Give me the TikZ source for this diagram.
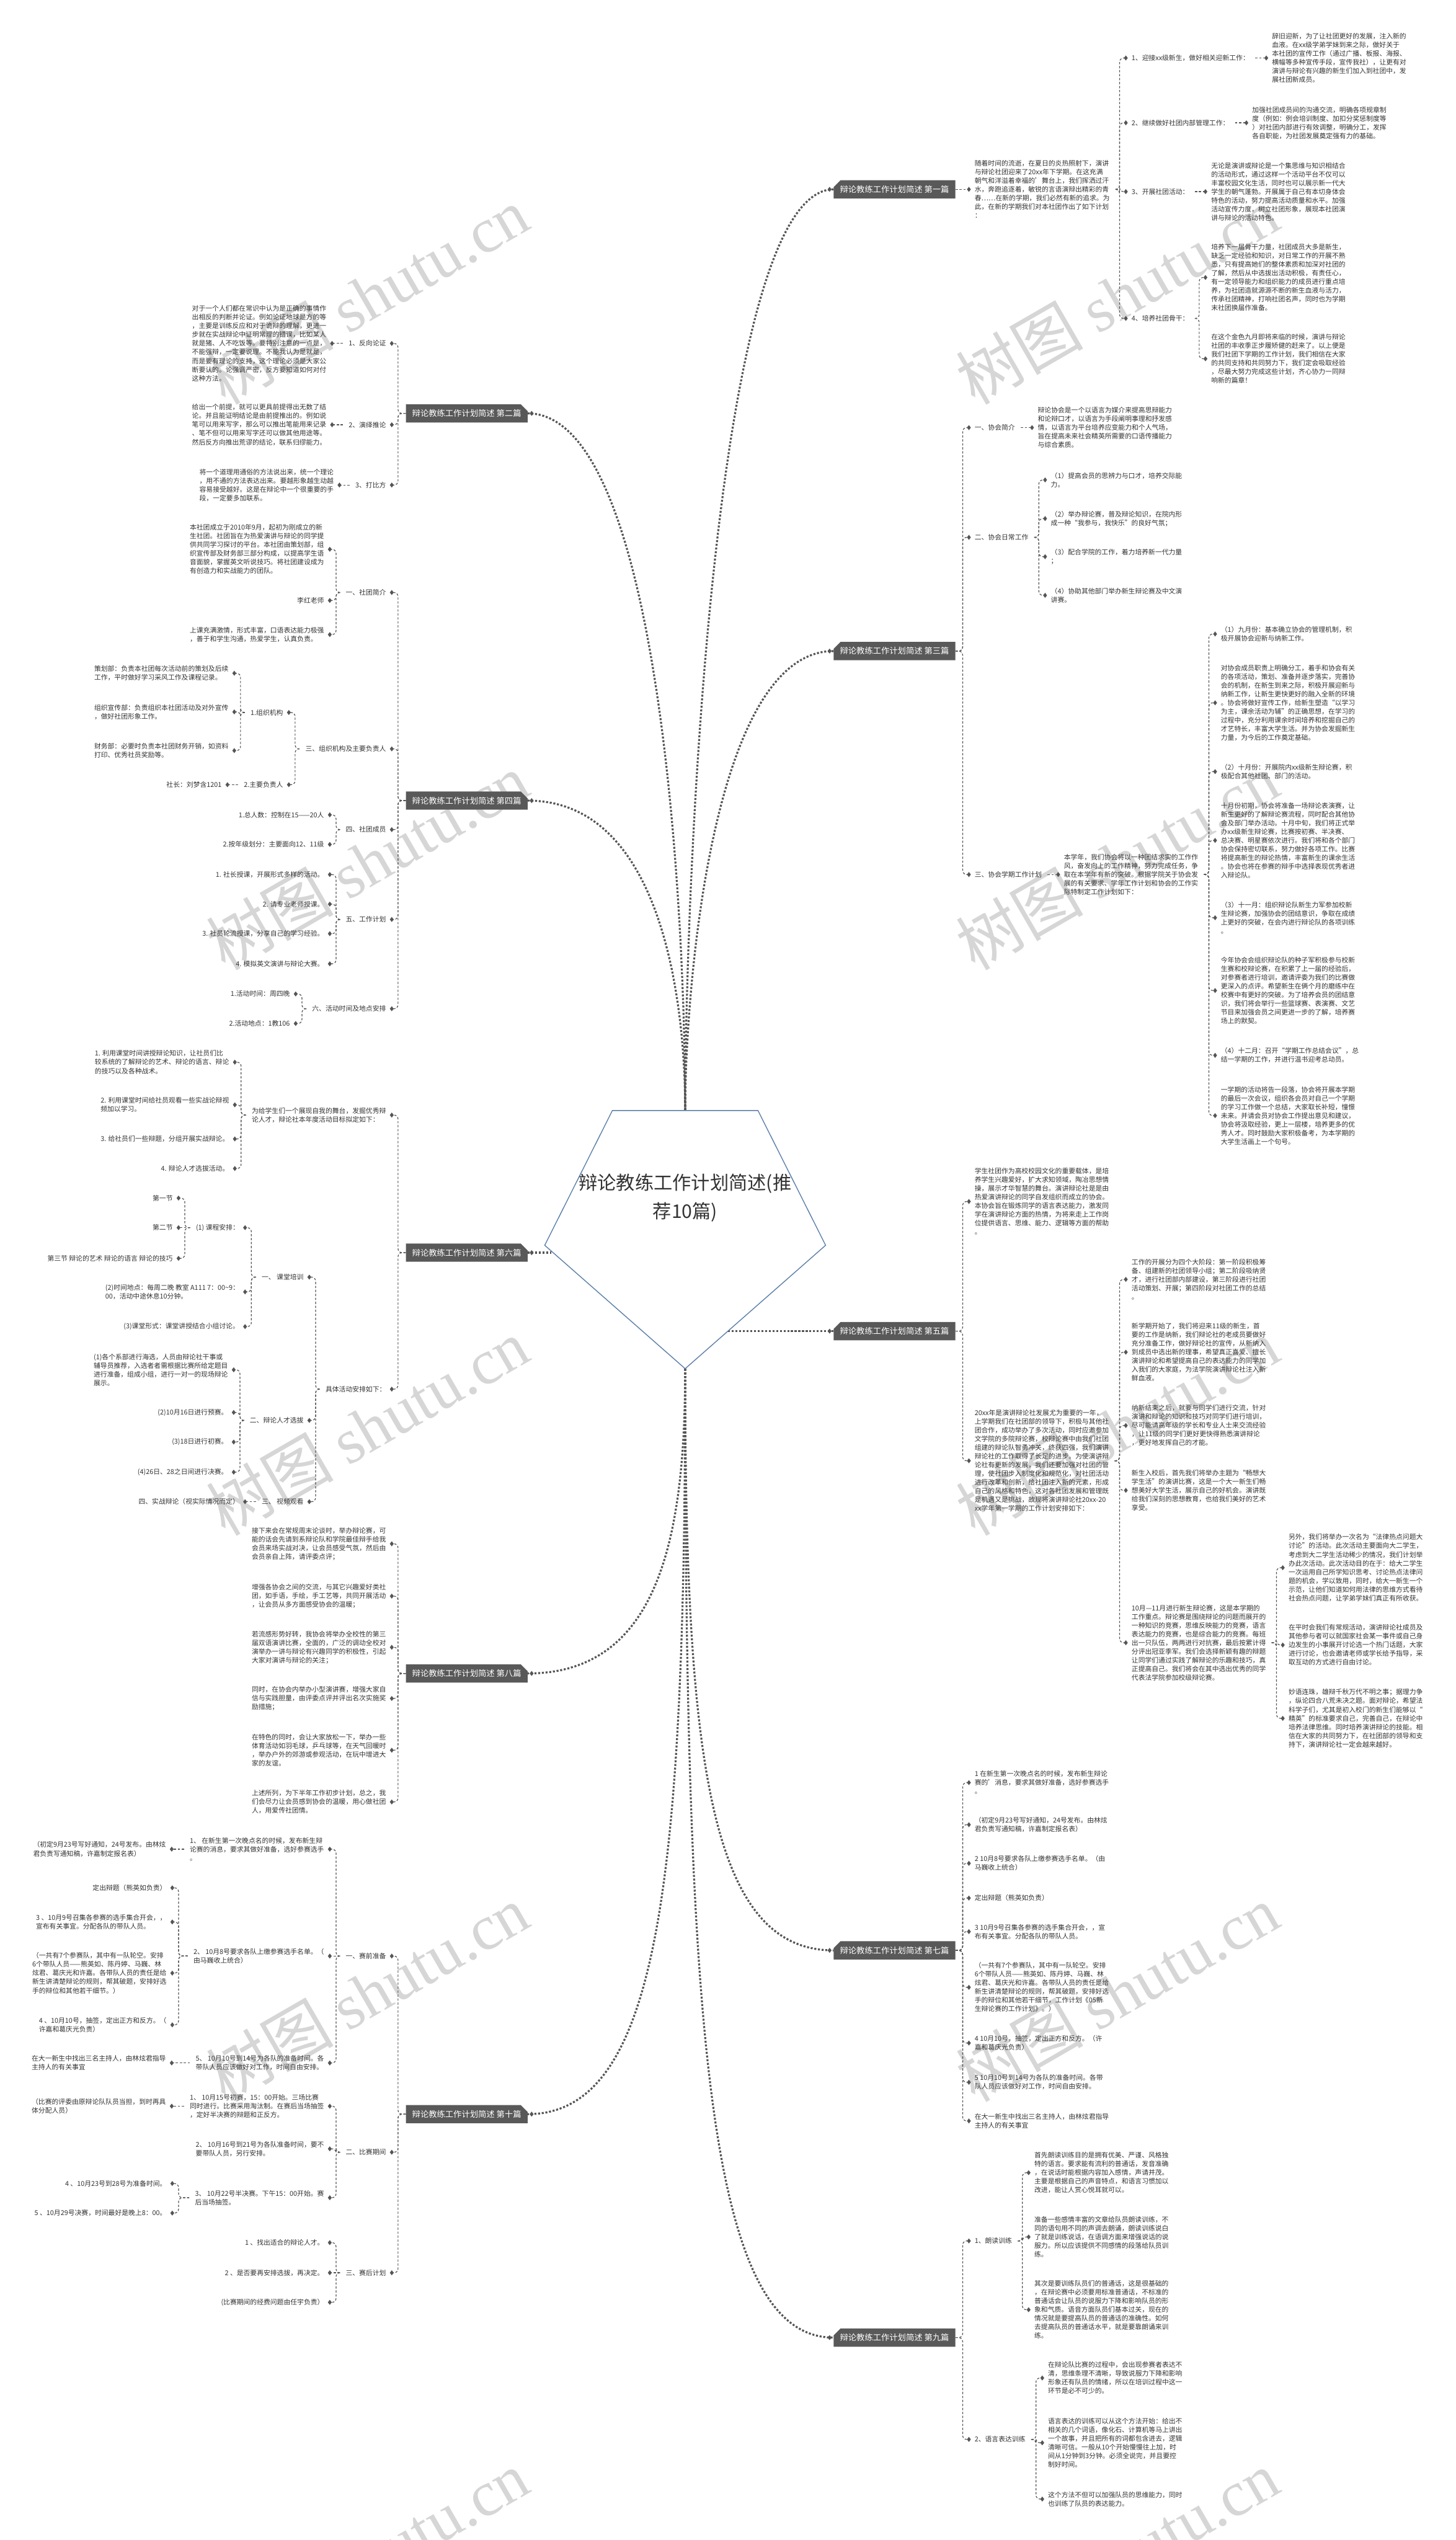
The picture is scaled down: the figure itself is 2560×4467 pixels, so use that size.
\documentclass[tikz,border=0pt]{standalone}
\usepackage{fontspec}
\setmainfont{Noto Sans CJK SC}
\newfontfamily\wmlat{Liberation Serif}
\usetikzlibrary{shapes.geometric,shapes.misc,calc}
\definecolor{txt}{HTML}{333333}
\definecolor{lc}{HTML}{555555}
\definecolor{brc}{HTML}{595959}
\definecolor{hexc}{HTML}{5B7FA8}
\definecolor{wmc}{HTML}{D6D6D6}
\pgfdeclarelayer{wm}
\pgfdeclarelayer{lines}
\pgfsetlayers{wm,lines,main}
\newcommand\ft{\fontsize{11.8}{15.3}\selectfont}
\newcommand\lkL[2]{\draw[con] (#1.west) -- ($(#1.west -| #2.east)+(11,0)$) |- (#2.east);}
\newcommand\lkR[2]{\draw[con] (#1.east) -- ($(#1.east -| #2.west)+(-11,0)$) |- (#2.west);}
\newcommand\lkSL[2]{\draw[con] (#1.west) -- (#2.east);}
\newcommand\lkSR[2]{\draw[con] (#1.east) -- (#2.west);}
\tikzset{
  dia/.style={diamond, fill=lc, draw=none, inner sep=0pt, minimum width=7pt, minimum height=9pt, anchor=center},
  leafL/.style={anchor=east, align=left, inner xsep=10pt, inner ysep=0pt, font=\ft, text=txt, append after command={(\tikzlastnode.east) node[dia] {}}},
  leafR/.style={anchor=west, align=left, inner xsep=10pt, inner ysep=0pt, font=\ft, text=txt, append after command={(\tikzlastnode.west) node[dia] {}}},
  brbase/.style={chamfered rectangle, chamfered rectangle xsep=6pt, chamfered rectangle ysep=6pt, fill=brc, text=white, font=\fontsize{14.5}{16}\selectfont, minimum width=214pt, minimum height=32pt, inner sep=0pt},
  brL/.style={brbase, chamfered rectangle corners=north east, anchor=east, append after command={([xshift=7pt]\tikzlastnode.east) node[dia] {}}},
  brR/.style={brbase, chamfered rectangle corners=north west, anchor=west, append after command={([xshift=-7pt]\tikzlastnode.west) node[dia] {}}},
  con/.style={draw=lc, line width=1.3pt, dash pattern=on 4pt off 3pt, rounded corners=7pt},
  mainc/.style={draw=lc, line width=3.5pt, dash pattern=on 3.5pt off 3pt},
  wm/.style={text=wmc, rotate=30, font=\fontsize{112}{112}\selectfont, inner sep=0pt, anchor=center},
}
\begin{document}
\begin{tikzpicture}[x=1pt,y=-1pt]
\useasboundingbox (0,0) rectangle (2560,4467);
\begin{pgfonlayer}{wm}
\fill[white] (0,0) rectangle (2560,4467);
\node[wm] (w1) at (646,520) {树图 {\wmlat shutu.cn}};
\node[wm] (w2) at (646,1515) {树图 {\wmlat shutu.cn}};
\node[wm] (w3) at (646,2510) {树图 {\wmlat shutu.cn}};
\node[wm] (w4) at (646,3505) {树图 {\wmlat shutu.cn}};
\node[wm] (w5) at (646,4500) {树图 {\wmlat shutu.cn}};
\node[wm] (w6) at (1965,520) {树图 {\wmlat shutu.cn}};
\node[wm] (w7) at (1965,1515) {树图 {\wmlat shutu.cn}};
\node[wm] (w8) at (1965,2510) {树图 {\wmlat shutu.cn}};
\node[wm] (w9) at (1965,3505) {树图 {\wmlat shutu.cn}};
\node[wm] (w10) at (1965,4500) {树图 {\wmlat shutu.cn}};
\end{pgfonlayer}

% ---------- centre ----------
\coordinate (ptl) at (1077,1953);
\coordinate (ptr) at (1333,1953);
\coordinate (pr) at (1452,2190);
\coordinate (pb) at (1205,2407);
\coordinate (pl) at (958,2190);
\coordinate (ctop) at (1205,1953);
\coordinate (cl6) at (970,2203);
\coordinate (cr5) at (1280,2341);
\draw[hexc, line width=1.5pt, fill=white] (ptl) -- (ptr) -- (pr) -- (pb) -- (pl) -- cycle;
\node[align=center, text=txt, font=\fontsize{33}{50}\selectfont] (title) at (1205,2107) {辩论教练工作计划简述(推\\荐10篇)};

% ---------- branch nodes ----------
\node[brL] (b2) at (928,727) {辩论教练工作计划简述 第二篇};
\node[brL] (b4) at (928,1408) {辩论教练工作计划简述 第四篇};
\node[brL] (b6) at (928,2203) {辩论教练工作计划简述 第六篇};
\node[brL] (b8) at (928,2943) {辩论教练工作计划简述 第八篇};
\node[brL] (b10) at (928,3718) {辩论教练工作计划简述 第十篇};
\node[brR] (b1) at (1466,333) {辩论教练工作计划简述 第一篇};
\node[brR] (b3) at (1466,1145) {辩论教练工作计划简述 第三篇};
\node[brR] (b5) at (1466,2341) {辩论教练工作计划简述 第五篇};
\node[brR] (b7) at (1466,3430) {辩论教练工作计划简述 第七篇};
\node[brR] (b9) at (1466,4111) {辩论教练工作计划简述 第九篇};

% ---------- 第二篇 ----------
\node[leafL] (b2a) at (689,604) {1、反向论证};
\node[leafL] (b2a1) at (584,604) {对于一个人们都在常识中认为是正确的事情作\\出相反的判断并论证。例如论证地球是方的等\\，主要是训练反应和对于诡辩的理解，更进一\\步就在实战辩论中证明常理的错误，比如某人\\就是猪、人不吃饭等。要特别注意的一点是，\\不能强辩，一定要说理。不能我认为是就是，\\而是要有理论的支持，这个理论必须是大家公\\断要认的。论强调严密，反方要知道如何对付\\这种方法。};
\node[leafL] (b2b) at (689,747) {2、演绎推论};
\node[leafL] (b2b1) at (584,747) {给出一个前提，就可以更具前提得出无数了结\\论。并且能证明结论是由前提推出的。例如说\\笔可以用来写字，那么可以推出笔能用来记录\\、笔不但可以用来写字还可以做其他用途等。\\然后反方向推出荒谬的结论，联系归缪能力。};
\node[leafL] (b2c) at (689,853) {3、打比方};
\node[leafL] (b2c1) at (597,853) {将一个道理用通俗的方法说出来，统一个理论\\，用不通的方法表达出来。要越形象越生动越\\容易接受越好。这是在辩论中一个很重要的手\\段，一定要多加联系。};

% ---------- 第四篇 ----------
\node[leafL] (b4a) at (689,1042) {一、社团简介};
\node[leafL] (b4a1) at (580,966) {本社团成立于2010年9月，起初为刚成立的新\\生社团。社团旨在为热爱演讲与辩论的同学提\\供共同学习探讨的平台。本社团由策划部，组\\织宣传部及财务部三部分构成，以提高学生语\\音面貌，掌握英文听说技巧。将社团建设成为\\有创造力和实战能力的团队。};
\node[leafL] (b4a2) at (580,1056) {李红老师};
\node[leafL] (b4a3) at (580,1116) {上课充满激情，形式丰富，口语表达能力极强\\，善于和学生沟通，热爱学生，认真负责。};
\node[leafL] (b4b) at (689,1317) {三、组织机构及主要负责人};
\node[leafL] (b4b1) at (508,1253) {1.组织机构};
\node[leafL] (b4b1a) at (412,1184) {策划部：负责本社团每次活动前的策划及后续\\工作，平时做好学习采风工作及课程记录。};
\node[leafL] (b4b1b) at (412,1252) {组织宣传部：负责组织本社团活动及对外宣传\\，做好社团形象工作。};
\node[leafL] (b4b1c) at (412,1320) {财务部：必要时负责本社团财务开销，如资料\\打印、优秀社员奖励等。};
\node[leafL] (b4b2) at (508,1380) {2.主要负责人};
\node[leafL] (b4b2a) at (400,1380) {社长：刘梦含1201};
\node[leafL] (b4c) at (689,1459) {四、社团成员};
\node[leafL] (b4c1) at (580,1433) {1.总人数：控制在15——20人};
\node[leafL] (b4c2) at (580,1485) {2.按年级划分：主要面向12、11级};
\node[leafL] (b4d) at (689,1617) {五、工作计划};
\node[leafL] (b4d1) at (580,1538) {1. 社长授课，开展形式多样的活动。};
\node[leafL] (b4d2) at (580,1590) {2. 请专业老师授课。};
\node[leafL] (b4d3) at (580,1642) {3. 社员轮流授课，分享自己的学习经验。};
\node[leafL] (b4d4) at (580,1695) {4. 模拟英文演讲与辩论大赛。};
\node[leafL] (b4e) at (689,1774) {六、活动时间及地点安排};
\node[leafL] (b4e1) at (520,1748) {1.活动时间：周四晚};
\node[leafL] (b4e2) at (520,1800) {2.活动地点：1教106};

% ---------- 第六篇 ----------
\node[leafL] (b6a) at (689,1961) {为给学生们一个展现自我的舞台，发掘优秀辩\\论人才，辩论社本年度活动目标拟定如下：};
\node[leafL] (b6a1) at (413,1868) {1. 利用课堂时间讲授辩论知识，让社员们比\\较系统的了解辩论的艺术、辩论的语言、辩论\\的技巧以及各种战术。};
\node[leafL] (b6a2) at (413,1943) {2. 利用课堂时间给社员观看一些实战论辩视\\频加以学习。};
\node[leafL] (b6a3) at (413,2003) {3. 给社员们一些辩题，分组开展实战辩论。};
\node[leafL] (b6a4) at (413,2055) {4. 辩论人才选拔活动。};
\node[leafL] (b6b) at (689,2443) {具体活动安排如下：};
\node[leafL] (b6b1) at (544,2246) {一、 课堂培训};
\node[leafL] (b6b1a) at (431,2159) {(1) 课程安排：};
\node[leafL] (b6b1a1) at (314,2107) {第一节};
\node[leafL] (b6b1a2) at (314,2159) {第二节};
\node[leafL] (b6b1a3) at (314,2213) {第三节 辩论的艺术 辩论的语言 辩论的技巧};
\node[leafL] (b6b1b) at (431,2272) {(2)时间地点：每周二晚 教室 A111 7：00\textasciitilde 9：\\00，活动中途休息10分钟。};
\node[leafL] (b6b1c) at (431,2333) {(3)课堂形式：课堂讲授结合小组讨论。};
\node[leafL] (b6b2) at (544,2498) {二、辩论人才选拔};
\node[leafL] (b6b2a) at (411,2409) {(1)各个系部进行海选，人员由辩论社干事或\\辅导员推荐，入选者者需根据比赛所给定题目\\进行准备，组成小组，进行一对一的现场辩论\\展示。};
\node[leafL] (b6b2b) at (411,2484) {(2)10月16日进行预赛。};
\node[leafL] (b6b2c) at (411,2536) {(3)18日进行初赛。};
\node[leafL] (b6b2d) at (411,2589) {(4)26日、28之日间进行决赛。};
\node[leafL] (b6b3) at (544,2641) {三、 视频观看};
\node[leafL] (b6b3a) at (431,2641) {四、实战辩论（视实际情况而定）};

% ---------- 第八篇 ----------
\node[leafL] (b8a) at (689,2715) {接下来会在常规周末论谈时，举办辩论赛，可\\能的话会先请到系辩论队和学院最佳辩手给我\\会员来场实战对决，让会员感受气氛，然后由\\会员亲自上阵，请评委点评；};
\node[leafL] (b8b) at (689,2807) {增强各协会之间的交流，与其它兴趣爱好类社\\团，如手语，手绘，手工艺等，共同开展活动\\，让会员从多方面感受协会的温暖；};
\node[leafL] (b8c) at (689,2897) {若流感形势好转，我协会将举办全校性的第三\\届双语演讲比赛，全面的，广泛的调动全校对\\演举办一讲与辩论有兴趣同学的积极性，引起\\大家对演讲与辩论的关注；};
\node[leafL] (b8d) at (689,2987) {同时，在协会内举办小型演讲赛，增强大家自\\信与实践胆量，由评委点评并评出名次实施奖\\励措施；};
\node[leafL] (b8e) at (689,3078) {在特色的同时，会让大家放松一下，举办一些\\体育活动如羽毛球，乒乓球等，在天气回暖时\\，举办户外的郊游或参观活动，在玩中增进大\\家的友谊。};
\node[leafL] (b8f) at (689,3169) {上述所列，为下半年工作初步计划，总之，我\\们会尽力让会员感到协会的温暖，用心做社团\\人，用爱传社团情。};

% ---------- 第十篇 ----------
\node[leafL] (b10a) at (689,3440) {一、赛前准备};
\node[leafL] (b10a1) at (580,3252) {1、 在新生第一次晚点名的时候，发布新生辩\\论赛的消息，要求其做好准备，选好参赛选手\\。};
\node[leafL] (b10a1a) at (302,3252) {（初定9月23号写好通知，24号发布。由林炫\\君负责写通知稿，许嘉制定报名表）};
\node[leafL] (b10a2) at (580,3440) {2、 10月8号要求各队上缴参赛选手名单。（\\由马巍收上统合）};
\node[leafL] (b10a2a) at (303,3320) {定出辩题（熊英如负责）};
\node[leafL] (b10a2b) at (303,3380) {3 、10月9号召集各参赛的选手集合开会，，\\宣布有关事宜。分配各队的带队人员。};
\node[leafL] (b10a2c) at (303,3470) {（一共有7个参赛队，其中有一队轮空。安排\\6个带队人员——熊英如、陈丹婷、马巍、林\\炫君、葛庆光和许嘉。各带队人员的责任是给\\新生讲清楚辩论的规则，帮其破题，安排好选\\手的辩位和其他若干细节。）};
\node[leafL] (b10a2d) at (303,3561) {4 、10月10号，抽签，定出正方和反方。（\\许嘉和葛庆光负责）};
\node[leafL] (b10a3) at (580,3628) {5、 10月10号到14号为各队的准备时间。各\\带队人员应该做好对工作，时间自由安排。};
\node[leafL] (b10a3a) at (302,3628) {在大一新生中找出三名主持人，由林炫君指导\\主持人的有关事宜};
\node[leafL] (b10b) at (689,3785) {二、比赛期间};
\node[leafL] (b10b1) at (580,3704) {1、 10月15号初赛，15：00开始。三场比赛\\同时进行。比赛采用淘汰制。在赛后当场抽签\\，定好半决赛的辩题和正反方。};
\node[leafL] (b10b1a) at (302,3704) {（比赛的评委由原辩论队队员当担，到时再具\\体分配人员）};
\node[leafL] (b10b2) at (580,3779) {2、 10月16号到21号为各队准备时间，要不\\要带队人员，另行安排。};
\node[leafL] (b10b3) at (580,3865) {3、 10月22号半决赛。下午15：00开始。赛\\后当场抽签。};
\node[leafL] (b10b3a) at (303,3840) {4 、10月23号到28号为准备时间。};
\node[leafL] (b10b3b) at (303,3892) {5 、10月29号决赛，时间最好是晚上8：00。};
\node[leafL] (b10c) at (689,3997) {三、赛后计划};
\node[leafL] (b10c1) at (580,3944) {1 、找出适合的辩论人才。};
\node[leafL] (b10c2) at (580,3997) {2 、是否要再安排选拔，再决定。};
\node[leafL] (b10c3) at (580,4049) {(比赛期间的经费问题由任宇负责）};

% ---------- 第一篇 ----------
\node[leafR] (b1a) at (1704,333) {随着时间的流逝，在夏日的炎热照射下，演讲\\与辩论社团迎来了20xx年下学期。在这充满\\朝气和洋溢着幸福的'舞台上，我们挥洒过汗\\水，奔跑追逐着，敏锐的言语演辩出精彩的青\\春……在新的学期，我们必然有新的追求。为\\此，在新的学期我们对本社团作出了如下计划\\：};
\node[leafR] (b1a1) at (1980,102) {1、迎接xx级新生，做好相关迎新工作：};
\node[leafR] (b1a1a) at (2227,102) {辞旧迎新，为了让社团更好的发展，注入新的\\血液。在xx级学弟学妹到来之际，做好关于\\本社团的宣传工作（通过广播、板报、海报、\\横幅等多种宣传手段，宣传我社），让更有对\\演讲与辩论有兴趣的新生们加入到社团中，发\\展社团新成员。};
\node[leafR] (b1a2) at (1980,216) {2、继续做好社团内部管理工作：};
\node[leafR] (b1a2a) at (2192,216) {加强社团成员间的沟通交流，明确各项规章制\\度（例如：例会培训制度、加扣分奖惩制度等\\）对社团内部进行有效调整，明确分工，发挥\\各自职能，为社团发展奠定强有力的基础。};
\node[leafR] (b1a3) at (1980,337) {3、开展社团活动：};
\node[leafR] (b1a3a) at (2120,337) {无论是演讲或辩论是一个集思维与知识相结合\\的活动形式，通过这样一个活动平台不仅可以\\丰富校园文化生活，同时也可以展示新一代大\\学生的朝气蓬勃。开展属于自己有本切身体会\\特色的活动，努力提高活动质量和水平。加强\\活动宣传力度，树立社团形象，展现本社团演\\讲与辩论的活动特色。};
\node[leafR] (b1a4) at (1980,560) {4、培养社团骨干：};
\node[leafR] (b1a4a) at (2120,488) {培养下一届骨干力量，社团成员大多是新生，\\缺乏一定经验和知识，对日常工作的开展不熟\\悉，只有提高她们的整体素质和加深对社团的\\了解，然后从中选拔出活动积极，有责任心，\\有一定领导能力和组织能力的成员进行重点培\\养，为社团造就源源不断的新生血液与活力，\\传承社团精神，打响社团名声，同时也为学期\\末社团换届作准备。};
\node[leafR] (b1a4b) at (2120,631) {在这个金色九月即将来临的时候，演讲与辩论\\社团的丰收季正步履矫健的赶来了。以上便是\\我们社团下学期的工作计划，我们相信在大家\\的共同支持和共同努力下，我们定会吸取经验\\，尽最大努力完成这些计划，齐心协力一同辩\\响新的篇章！};

% ---------- 第三篇 ----------
\node[leafR] (b3a) at (1704,752) {一、协会简介};
\node[leafR] (b3a1) at (1815,752) {辩论协会是一个以语言为媒介来提高思辩能力\\和论辩口才，以语言为手段阐明事理和抒发感\\情，以语言为平台培养应变能力和个人气场，\\旨在提高未来社会精英所需要的口语传播能力\\与综合素质。};
\node[leafR] (b3b) at (1704,945) {二、协会日常工作};
\node[leafR] (b3b1) at (1838,844) {（1）提高会员的思辨力与口才，培养交际能\\力。};
\node[leafR] (b3b2) at (1838,912) {（2）举办辩论赛，普及辩论知识，在院内形\\成一种“我参与，我快乐”的良好气氛；};
\node[leafR] (b3b3) at (1838,979) {（3）配合学院的工作，着力培养新一代力量\\；};
\node[leafR] (b3b4) at (1838,1047) {（4）协助其他部门举办新生辩论赛及中文演\\讲赛。};
\node[leafR] (b3c) at (1704,1538) {三、协会学期工作计划};
\node[leafR] (b3c1) at (1861,1538) {本学年，我们协会将以一种团结求实的工作作\\风，奋发向上的工作精神，努力完成任务，争\\取在本学年有新的突破。根据学院关于协会发\\展的有关要求、学年工作计划和协会的工作实\\际特制定工作计划如下：};
\node[leafR] (b3c1a) at (2137,1115) {（1）九月份：基本确立协会的管理机制，积\\极开展协会迎新与纳新工作。};
\node[leafR] (b3c1b) at (2137,1236) {对协会成员职责上明确分工，着手和协会有关\\的各项活动，策划、准备并逐步落实，完善协\\会的机制，在新生到来之际，积极开展迎新与\\纳新工作，让新生更快更好的融入全新的环境\\。协会将做好宣传工作，给新生塑造“以学习\\为主，课余活动为辅”的正确思想，在学习的\\过程中，充分利用课余时间培养和挖掘自己的\\才艺特长，丰富大学生活。并为协会发掘新生\\力量，为今后的工作奠定基础。};
\node[leafR] (b3c1c) at (2137,1357) {（2）十月份：开展院内xx级新生辩论赛，积\\极配合其他社团、部门的活动。};
\node[leafR] (b3c1d) at (2137,1478) {十月份初期，协会将准备一场辩论表演赛，让\\新生更好的了解辩论赛流程，同时配合其他协\\会及部门举办活动。十月中旬，我们将正式举\\办xx级新生辩论赛，比赛按初赛、半决赛、\\总决赛、明星赛依次进行。我们将和各个部门\\协会保持密切联系，努力做好各项工作。比赛\\将提高新生的辩论热情，丰富新生的课余生活\\。协会也将在参赛的辩手中选择表现优秀者进\\入辩论队。};
\node[leafR] (b3c1e) at (2137,1614) {（3）十一月：组织辩论队新生力军参加校新\\生辩论赛，加强协会的团结意识，争取在成绩\\上更好的突破，在会内进行辩论队的各项训练\\。};
\node[leafR] (b3c1f) at (2137,1742) {今年协会会组织辩论队的种子军积极参与校新\\生赛和校辩论赛，在积累了上一届的经验后，\\对参赛者进行培训，邀请评委为我们的比赛做\\更深入的点评。希望新生在俩个月的磨练中在\\校赛中有更好的突破。为了培养会员的团结意\\识，我们将会举行一些篮球赛、表演赛、文艺\\节目来加强会员之间更进一步的了解，培养赛\\场上的默契。};
\node[leafR] (b3c1g) at (2137,1856) {（4）十二月：召开“学期工作总结会议”，总\\结一学期的工作，并进行温书迎考总动员。};
\node[leafR] (b3c1h) at (2137,1962) {一学期的活动将告一段落，协会将开展本学期\\的最后一次会议，组织各会员对自己一个学期\\的学习工作做一个总结，大家取长补短，憧憬\\未来。并请会员对协会工作提出意见和建议，\\协会将汲取经验，更上一层楼，培养更多的优\\秀人才。同时鼓励大家积极备考，为本学期的\\大学生活画上一个句号。};

% ---------- 第五篇 ----------
\node[leafR] (b5a) at (1704,2113) {学生社团作为高校校园文化的重要载体，是培\\养学生兴趣爱好，扩大求知领域，陶冶思想情\\操，展示才华智慧的舞台。演讲辩论社是是由\\热爱演讲辩论的同学自发组织而成立的协会。\\本协会旨在锻炼同学的语言表达能力，激发同\\学在演讲辩论方面的热情，为将来走上工作岗\\位提供语言、思维、能力、逻辑等方面的帮助\\。};
\node[leafR] (b5b) at (1704,2569) {20xx年是演讲辩论社发展尤为重要的一年，\\上学期我们在社团部的领导下，积极与其他社\\团合作，成功举办了多次活动，同时应邀参加\\文学院的多院辩论赛，校辩论赛中由我们社团\\组建的辩论队智勇冲关，终获四强，我们演讲\\辩论社的工作取得了长足的进步。为使演讲辩\\论社有更新的发展，我们还要加强对社团的管\\理，使社团步入制度化和规范化，对社团活动\\进行改革和创新，给社团注入新的元素，形成\\自己的风格和特色，这对各社团发展和管理既\\是机遇又是挑战，故现将演讲辩论社20xx-20\\xx学年第一学期的工作计划安排如下：};
\node[leafR] (b5b1) at (1980,2250) {工作的开展分为四个大阶段：第一阶段积极筹\\备、组建新的社团领导小组；第二阶段吸纳贤\\才，进行社团部内部建设，第三阶段进行社团\\活动策划、开展；第四阶段对社团工作的总结\\。};
\node[leafR] (b5b2) at (1980,2378) {新学期开始了，我们将迎来11级的新生，首\\要的工作是纳新，我们辩论社的老成员要做好\\充分准备工作，做好辩论社的宣传，从新纳入\\到成员中选出新的理事，希望真正喜爱、擅长\\演讲辩论和希望提高自己的表达能力的同学加\\入我们的大家庭，为法学院演讲辩论社注入新\\鲜血液。};
\node[leafR] (b5b3) at (1980,2507) {纳新结束之后，就要与同学们进行交流，针对\\演讲和辩论的知识和技巧对同学们进行培训，\\尽可能请高年级的学长和专业人士来交流经验\\，让11级的同学们更好更快得熟悉演讲辩论\\，更好地发挥自己的才能。};
\node[leafR] (b5b4) at (1980,2621) {新生入校后，首先我们将举办主题为“畅想大\\学生活”的演讲比赛，这是一个大一新生们畅\\想美好大学生活，展示自己的好机会。演讲既\\给我们深刻的思想教育，也给我们美好的艺术\\享受。};
\node[leafR] (b5b5) at (1980,2889) {10月—11月进行新生辩论赛，这是本学期的\\工作重点。辩论赛是围绕辩论的问题而展开的\\一种知识的竞赛，思维反映能力的竞赛，语言\\表达能力的竞赛，也是综合能力的竞赛。每班\\出一只队伍，两两进行对抗赛，最后按累计得\\分评出冠亚季军。我们会选择新颖有趣的辩题\\让同学们通过实践了解辩论的乐趣和技巧，真\\正提高自己。我们将会在其中选出优秀的同学\\代表法学院参加校级辩论赛。};
\node[leafR] (b5b5a) at (2256,2757) {另外，我们将举办一次名为“法律热点问题大\\讨论”的活动。此次活动主要面向大二学生，\\考虑到大二学生活动稀少的情况，我们计划举\\办此次活动。此次活动目的在于：给大二学生\\一次运用自己所学知识思考、讨论热点法律问\\题的机会，学以致用，同时，给大一新生一个\\示范，让他们知道如何用法律的思维方式看待\\社会热点问题，让学弟学妹们真正有所收获。};
\node[leafR] (b5b5b) at (2256,2893) {在平时会我们有常规活动，演讲辩论社成员及\\其他参与者可以就国家社会某一事件或自己身\\边发生的小事展开讨论选一个热门话题，大家\\进行讨论，也会邀请老师或学长给予指导，采\\取互动的方式进行自由讨论。};
\node[leafR] (b5b5c) at (2256,3022) {妙语连珠，雄辩千秋万代不明之事；据理力争\\，纵论四合八荒未决之题。面对辩论，希望法\\科学子们，尤其是初入校门的新生们能够以“\\精英”的标准要求自己，完善自己，在辩论中\\培养法律思维。同时培养演讲辩论的技能。相\\信在大家的共同努力下，在社团部的领导和支\\持下，演讲辩论社一定会越来越好。};

% ---------- 第七篇 ----------
\node[leafR] (b7a) at (1704,3135) {1 在新生第一次晚点名的时候，发布新生辩论\\赛的'消息，要求其做好准备，选好参赛选手\\。};
\node[leafR] (b7b) at (1704,3209) {（初定9月23号写好通知，24号发布。由林炫\\君负责写通知稿，许嘉制定报名表）};
\node[leafR] (b7c) at (1704,3277) {2 10月8号要求各队上缴参赛选手名单。（由\\马巍收上统合）};
\node[leafR] (b7d) at (1704,3338) {定出辩题（熊英如负责）};
\node[leafR] (b7e) at (1704,3397) {3 10月9号召集各参赛的选手集合开会，，宣\\布有关事宜。分配各队的带队人员。};
\node[leafR] (b7f) at (1704,3495) {（一共有7个参赛队，其中有一队轮空。安排\\6个带队人员——熊英如、陈丹婷、马巍、林\\炫君、葛庆光和许嘉。各带队人员的责任是给\\新生讲清楚辩论的规则，帮其破题，安排好选\\手的辩位和其他若干细节，工作计划《05新\\生辩论赛的工作计划》。）};
\node[leafR] (b7g) at (1704,3593) {4 10月10号，抽签，定出正方和反方。（许\\嘉和葛庆光负责）};
\node[leafR] (b7h) at (1704,3662) {5 10月10号到14号为各队的准备时间。各带\\队人员应该做好对工作，时间自由安排。};
\node[leafR] (b7i) at (1704,3730) {在大一新生中找出三名主持人，由林炫君指导\\主持人的有关事宜};

% ---------- 第九篇 ----------
\node[leafR] (b9a) at (1704,3941) {1、朗读训练};
\node[leafR] (b9a1) at (1809,3821) {首先朗读训练目的是拥有优美、严谨、风格独\\特的语言。要求能有流利的普通话，发音准确\\，在说话时能根据内容加入感情，声请并茂。\\主要是根据自己的声音特点，和语言习惯加以\\改进，能让人赏心悦耳就可以。};
\node[leafR] (b9a2) at (1809,3934) {准备一些感情丰富的文章给队员朗读训练，不\\同的语句用不同的声调去朗诵，朗读训练说白\\了就是训练说话，在语调方面来增强说话的说\\服力。所以应该提供不同感情的段落给队员训\\练。};
\node[leafR] (b9a3) at (1809,4062) {其次是要训练队员们的普通话，这是很基础的\\，在辩论赛中必须要用标准普通话，不标准的\\普通话会让队员的说服力下降和影响队员的形\\象和气质。语音方面队员们基本过关，现在的\\情况就是要提高队员的普通话的准确性。如何\\去提高队员的普通话水平，就是要靠朗诵来训\\练。};
\node[leafR] (b9b) at (1704,4290) {2、语言表达训练};
\node[leafR] (b9b1) at (1833,4182) {在辩论队比赛的过程中，会出现参赛者表达不\\清，思维条理不清晰，导致说服力下降和影响\\形象还有队员的情绪，所以在培训过程中这一\\环节是必不可少的。};
\node[leafR] (b9b2) at (1833,4296) {语言表达的训练可以从这个方法开始：给出不\\相关的几个词语，像化石、计算机等马上讲出\\一个故事，并且把所有的词都包含进去，逻辑\\清晰可信。一般从10个开始慢慢往上加，时\\间从1分钟到3分钟。必须全说完，并且要控\\制好时间。};
\node[leafR] (b9b3) at (1833,4395) {这个方法不但可以加强队员的思维能力，同时\\也训练了队员的表达能力。};

% ---------- connectors ----------
\begin{pgfonlayer}{lines}
\draw[mainc] (b2.east) .. controls (1160,727) and (1205,1600) .. (ctop);
\draw[mainc] (b4.east) .. controls (1160,1408) and (1205,1750) .. (ctop);
\draw[mainc] (b1.west) .. controls (1250,333) and (1205,1600) .. (ctop);
\draw[mainc] (b3.west) .. controls (1250,1145) and (1205,1750) .. (ctop);
\draw[mainc] (b6.east) -- (cl6);
\draw[mainc] (b5.west) -- (cr5);
\draw[mainc] (pb) .. controls (1205,2700) and (1160,2943) .. (b8.east);
\draw[mainc] (pb) .. controls (1205,3300) and (1160,3718) .. (b10.east);
\draw[mainc] (pb) .. controls (1205,3100) and (1250,3430) .. (b7.west);
\draw[mainc] (pb) .. controls (1205,3600) and (1250,4111) .. (b9.west);

\lkL{b2}{b2a} \lkL{b2}{b2b} \lkL{b2}{b2c}
\lkSL{b2a}{b2a1} \lkSL{b2b}{b2b1} \lkSL{b2c}{b2c1}

\lkL{b4}{b4a} \lkL{b4}{b4b} \lkL{b4}{b4c} \lkL{b4}{b4d} \lkL{b4}{b4e}
\lkL{b4a}{b4a1} \lkL{b4a}{b4a2} \lkL{b4a}{b4a3}
\lkL{b4b}{b4b1} \lkL{b4b}{b4b2}
\lkL{b4b1}{b4b1a} \lkL{b4b1}{b4b1b} \lkL{b4b1}{b4b1c}
\lkSL{b4b2}{b4b2a}
\lkL{b4c}{b4c1} \lkL{b4c}{b4c2}
\lkL{b4d}{b4d1} \lkL{b4d}{b4d2} \lkL{b4d}{b4d3} \lkL{b4d}{b4d4}
\lkL{b4e}{b4e1} \lkL{b4e}{b4e2}

\lkL{b6}{b6a} \lkL{b6}{b6b}
\lkL{b6a}{b6a1} \lkL{b6a}{b6a2} \lkL{b6a}{b6a3} \lkL{b6a}{b6a4}
\lkL{b6b}{b6b1} \lkL{b6b}{b6b2} \lkL{b6b}{b6b3}
\lkL{b6b1}{b6b1a} \lkL{b6b1}{b6b1b} \lkL{b6b1}{b6b1c}
\lkL{b6b1a}{b6b1a1} \lkSL{b6b1a}{b6b1a2} \lkL{b6b1a}{b6b1a3}
\lkL{b6b2}{b6b2a} \lkL{b6b2}{b6b2b} \lkL{b6b2}{b6b2c} \lkL{b6b2}{b6b2d}
\lkSL{b6b3}{b6b3a}

\lkL{b8}{b8a} \lkL{b8}{b8b} \lkL{b8}{b8c} \lkL{b8}{b8d} \lkL{b8}{b8e} \lkL{b8}{b8f}

\lkL{b10}{b10a} \lkL{b10}{b10b} \lkL{b10}{b10c}
\lkL{b10a}{b10a1} \lkSL{b10a}{b10a2} \lkL{b10a}{b10a3}
\lkSL{b10a1}{b10a1a}
\lkL{b10a2}{b10a2a} \lkL{b10a2}{b10a2b} \lkL{b10a2}{b10a2c} \lkL{b10a2}{b10a2d}
\lkSL{b10a3}{b10a3a}
\lkL{b10b}{b10b1} \lkL{b10b}{b10b2} \lkL{b10b}{b10b3}
\lkSL{b10b1}{b10b1a}
\lkL{b10b3}{b10b3a} \lkL{b10b3}{b10b3b}
\lkL{b10c}{b10c1} \lkSL{b10c}{b10c2} \lkL{b10c}{b10c3}

\lkSR{b1}{b1a}
\lkR{b1a}{b1a1} \lkR{b1a}{b1a2} \lkR{b1a}{b1a3} \lkR{b1a}{b1a4}
\lkSR{b1a1}{b1a1a} \lkSR{b1a2}{b1a2a} \lkSR{b1a3}{b1a3a}
\lkR{b1a4}{b1a4a} \lkR{b1a4}{b1a4b}

\lkR{b3}{b3a} \lkR{b3}{b3b} \lkR{b3}{b3c}
\lkSR{b3a}{b3a1}
\lkR{b3b}{b3b1} \lkR{b3b}{b3b2} \lkR{b3b}{b3b3} \lkR{b3b}{b3b4}
\lkSR{b3c}{b3c1}
\lkR{b3c1}{b3c1a} \lkR{b3c1}{b3c1b} \lkR{b3c1}{b3c1c} \lkR{b3c1}{b3c1d}
\lkR{b3c1}{b3c1e} \lkR{b3c1}{b3c1f} \lkR{b3c1}{b3c1g} \lkR{b3c1}{b3c1h}

\lkR{b5}{b5a} \lkR{b5}{b5b}
\lkR{b5b}{b5b1} \lkR{b5b}{b5b2} \lkR{b5b}{b5b3} \lkR{b5b}{b5b4} \lkR{b5b}{b5b5}
\lkR{b5b5}{b5b5a} \lkR{b5b5}{b5b5b} \lkR{b5b5}{b5b5c}

\lkR{b7}{b7a} \lkR{b7}{b7b} \lkR{b7}{b7c} \lkR{b7}{b7d} \lkR{b7}{b7e}
\lkR{b7}{b7f} \lkR{b7}{b7g} \lkR{b7}{b7h} \lkR{b7}{b7i}

\lkR{b9}{b9a} \lkR{b9}{b9b}
\lkR{b9a}{b9a1} \lkR{b9a}{b9a2} \lkR{b9a}{b9a3}
\lkR{b9b}{b9b1} \lkR{b9b}{b9b2} \lkR{b9b}{b9b3}
\end{pgfonlayer}
\end{tikzpicture}
\end{document}
